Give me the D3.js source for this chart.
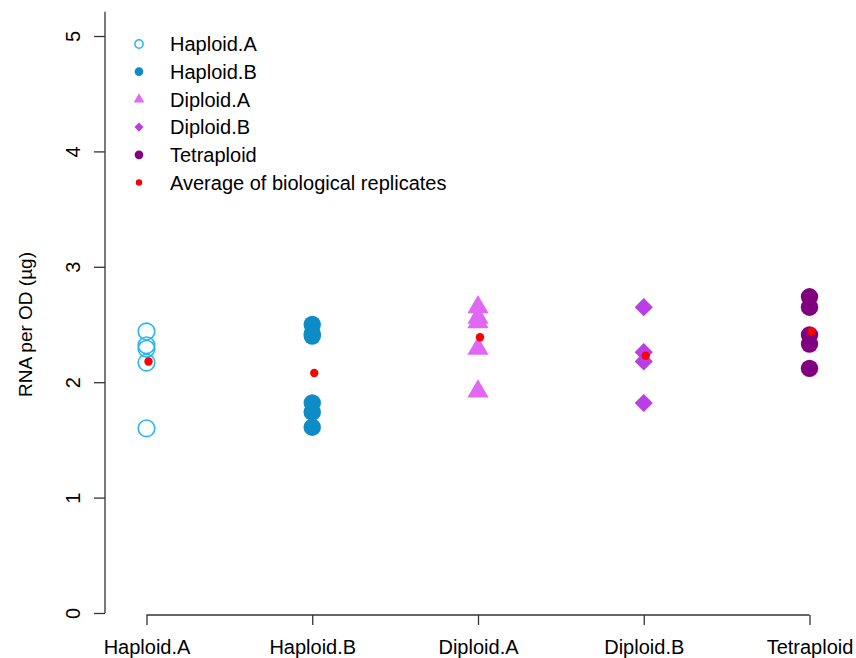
<!DOCTYPE html>
<html>
<head>
<meta charset="utf-8">
<script src="https://cdn.jsdelivr.net/npm/d3@7"></script>
<style>
    body { margin: 0; background: #fff; }
    svg { display: block; font-family: "Liberation Sans", Arial, sans-serif; }
</style>
</head>
<body>
<svg id="chart" width="856" height="658"></svg>
<script>
const groups = ["Haploid.A", "Haploid.B", "Diploid.A", "Diploid.B", "Tetraploid"];
const haploidA = [2.44, 2.32, 2.29, 2.17, 1.60];
const haploidB = [2.50, 2.42, 2.40, 1.82, 1.74, 1.61];
const diploidA = [2.65, 2.56, 2.52, 2.29, 1.92];
const diploidB = [2.65, 2.26, 2.18, 1.82];
const tetraploid = [2.74, 2.65, 2.41, 2.33, 2.12];
const averages = [2.18, 2.08, 2.39, 2.23, 2.44];
const yTicks = [0, 1, 2, 3, 4, 5];
const legendLabels = ["Haploid.A", "Haploid.B", "Diploid.A", "Diploid.B", "Tetraploid", "Average of biological replicates"];

const svg = d3.select("#chart");

const x = d3.scalePoint()
    .domain(groups)
    .range([146.5, 809.5]);
const y = d3.scaleLinear()
    .domain([0, 5])
    .range([613, 36]);

// marker styles per group
const styles = {
    "Haploid.A": { shape: "openCircle", color: "#25b7f0" },
    "Haploid.B": { shape: "circle", color: "#0d8cc6" },
    "Diploid.A": { shape: "triangle", color: "#e068f2" },
    "Diploid.B": { shape: "diamond", color: "#bb3de6" },
    "Tetraploid": { shape: "circle", color: "#800080" }
};

function drawMarker(sel, shape, color, big) {
    const k = big ? 1 : 0.5;
    if (shape == "openCircle") {
        sel.append("circle").attr("r", 8.3 * k)
            .attr("fill", "none").attr("stroke", color).attr("stroke-width", big ? 1.6 : 1.5);
    } else if (shape == "circle") {
        sel.append("circle").attr("r", 8.7 * k).attr("fill", color);
    } else if (shape == "triangle") {
        sel.append("path")
            .attr("d", d3.symbol().type(d3.symbolTriangle).size(195 * k * k)())
            .attr("fill", color);
    } else if (shape == "diamond") {
        sel.append("path")
            .attr("d", d3.symbol().type(d3.symbolSquare).size(165 * k * k)())
            .attr("transform", "rotate(45)")
            .attr("fill", color);
    } else if (shape == "dot") {
        sel.append("circle").attr("r", big ? 4.2 : 3.2).attr("fill", color);
    }
}

// y axis
const yAxis = svg.append("g")
    .attr("transform", "translate(105,0)")
    .call(d3.axisLeft(y).tickValues(yTicks).tickFormat(d3.format("d")).tickSize(11).tickSizeOuter(0));
yAxis.select(".domain").remove();
yAxis.append("line")
    .attr("x1", 0).attr("x2", 0)
    .attr("y1", y(0)).attr("y2", y(5.21))
    .attr("stroke", "#333").attr("stroke-width", 1.3);
yAxis.selectAll(".tick line").attr("stroke", "#333").attr("stroke-width", 1.3);
yAxis.selectAll(".tick text")
    .attr("transform", "rotate(-90)")
    .attr("x", 0).attr("y", -25).attr("dy", 0)
    .attr("text-anchor", "middle")
    .attr("fill", "#000")
    .style("font-size", "20px")
    .style("font-family", "'Liberation Sans', Arial, sans-serif");

svg.append("text")
    .attr("transform", `translate(32, ${(y(0) + y(5)) / 2}) rotate(-90)`)
    .attr("text-anchor", "middle")
    .style("font-size", "19px")
    .text("RNA per OD (µg)");

// x axis
const xAxis = svg.append("g")
    .attr("transform", "translate(0,615)")
    .call(d3.axisBottom(x).tickSize(10).tickSizeOuter(0));
xAxis.select(".domain").remove();
xAxis.append("line")
    .attr("x1", x(groups[0])).attr("x2", x(groups[groups.length - 1]))
    .attr("y1", 0).attr("y2", 0)
    .attr("stroke", "#333").attr("stroke-width", 1.3);
xAxis.selectAll(".tick line").attr("stroke", "#333").attr("stroke-width", 1.3);
xAxis.selectAll(".tick text")
    .attr("y", 39).attr("dy", 0)
    .attr("fill", "#000")
    .style("font-size", "20px")
    .style("font-family", "'Liberation Sans', Arial, sans-serif");

// points
const series = [haploidA, haploidB, diploidA, diploidB, tetraploid];
series.forEach(function (values, i) {
    const g = groups[i];
    const st = styles[g];
    svg.append("g")
        .selectAll("g")
        .data(values)
        .join("g")
        .attr("transform", d => `translate(${x(g)}, ${y(d)})`)
        .each(function () { drawMarker(d3.select(this), st.shape, st.color, true); });
});

// averages
svg.append("g")
    .selectAll("g")
    .data(averages)
    .join("g")
    .attr("transform", (d, i) => `translate(${x(groups[i]) + 2}, ${y(d)})`)
    .each(function () { drawMarker(d3.select(this), "dot", "#ff0000", true); });

// legend
const legendShapes = ["openCircle", "circle", "triangle", "diamond", "circle", "dot"];
const legendColors = groups.map(g => styles[g].color).concat(["#ff0000"]);
const legend = svg.append("g")
    .selectAll("g")
    .data(legendLabels)
    .join("g")
    .attr("transform", (d, i) => `translate(139, ${44 + i * 27.7})`);
legend.each(function (d, i) {
    drawMarker(d3.select(this), legendShapes[i], legendColors[i], false);
});
legend.append("text")
    .attr("x", 31)
    .attr("dy", "0.36em")
    .style("font-size", "20px")
    .text(d => d);
</script>
</body>
</html>
